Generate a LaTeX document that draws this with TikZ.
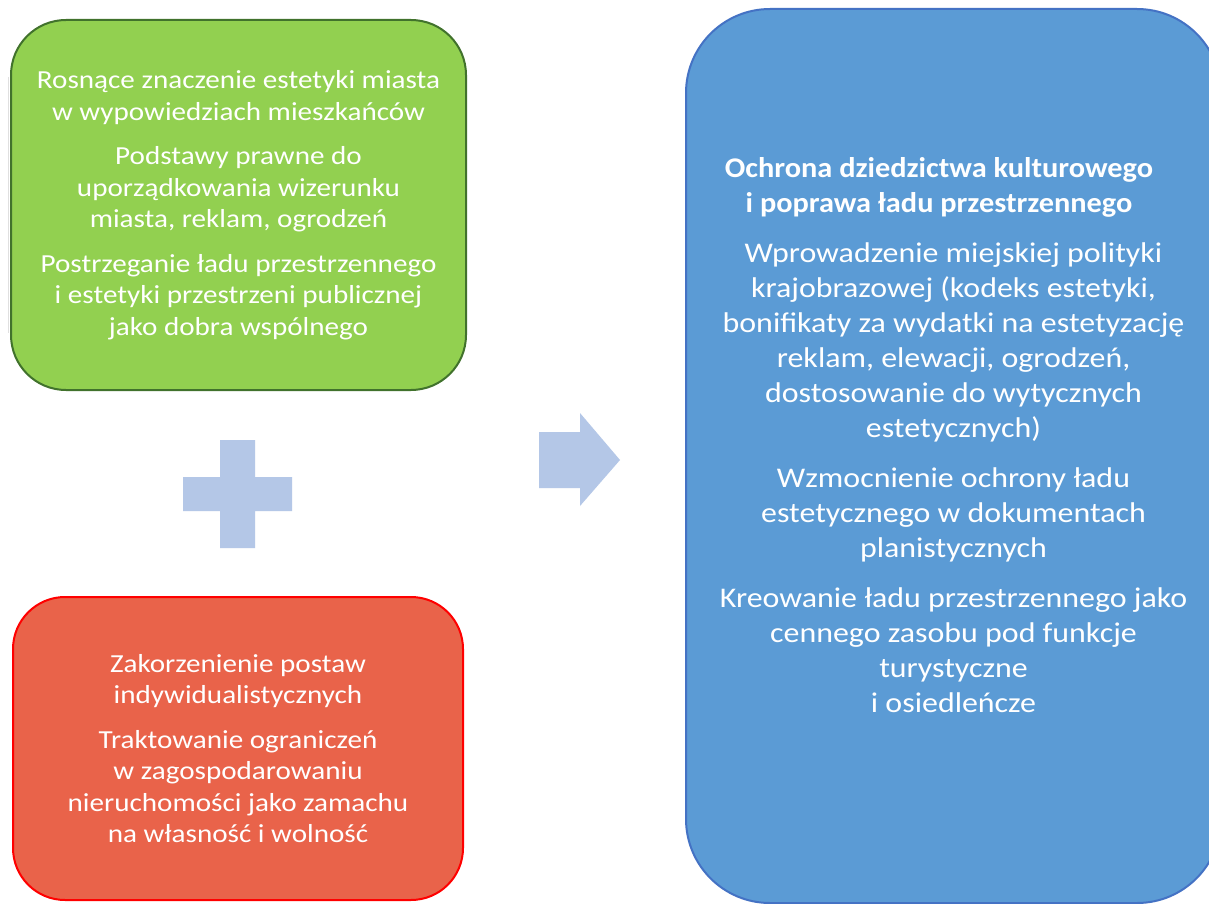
\documentclass[tikz,border=0pt]{standalone}
\usepackage{fontspec}
\setmainfont{Carlito}[FakeStretch=1.12, BoldFeatures={FakeStretch=1.065}]
\definecolor{gfill}{HTML}{92D050}
\definecolor{gline}{HTML}{41722C}
\definecolor{rfill}{HTML}{E9634A}
\definecolor{rline}{HTML}{FF0000}
\definecolor{bfill}{HTML}{5B9BD5}
\definecolor{bline}{HTML}{4472C4}
\definecolor{lblue}{HTML}{B4C7E7}
\tikzset{
  box/.style={draw, line width=2pt, rectangle, inner sep=0pt, align=center, text=white},
  smalltext/.style={font=\fontsize{26}{31.5}\selectfont},
  bigtext/.style={font=\fontsize{28.5}{35}\selectfont, text=white, align=center},
  shapefill/.style={fill=lblue, draw=none}
}
\begin{document}
\begin{tikzpicture}[x=1pt,y=-1pt]
\useasboundingbox (0,0) rectangle (1209,904);
\clip (0,0) rectangle (1209,904);
\fill[white] (0,0) rectangle (1209,904);
% faint artifact line
\draw[line width=1pt, black!12] (8,77) -- (8,333);
% green box
\node[box, smalltext, fill=gfill, draw=gline, rounded corners=55pt,
  minimum width=455pt, minimum height=370pt] (green) at (238.5,205)
  {Rosnące znaczenie estetyki miasta\\ w wypowiedziach mieszkańców\\[13pt]
   Podstawy prawne do\\ uporządkowania wizerunku\\ miasta, reklam, ogrodzeń\\[13pt]
   Postrzeganie ładu przestrzennego\\ i estetyki przestrzeni publicznej\\ jako dobra wspólnego};
% red box
\node[box, smalltext, fill=rfill, draw=rline, rounded corners=52pt,
  minimum width=450pt, minimum height=303pt] (red) at (238,748.5)
  {Zakorzenienie postaw\\ indywidualistycznych\\[13pt]
   Traktowanie ograniczeń\\ w zagospodarowaniu\\ nieruchomości jako zamachu\\ na własność i wolność};
% blue box
\node[box, fill=bfill, draw=bline, rounded corners=84pt,
  minimum width=535pt, minimum height=894pt] (blue) at (953.5,456) {};
\node[bigtext] (bluetext) at (953.5,435)
  {\textbf{Ochrona dziedzictwa kulturowego}\kern29pt\\ \textbf{i poprawa ładu przestrzennego}\kern29pt\\[15pt]
   Wprowadzenie miejskiej polityki\\ krajobrazowej (kodeks estetyki,\\ bonifikaty za wydatki na estetyzację\\ reklam, elewacji, ogrodzeń,\\ dostosowanie do wytycznych\\ estetycznych)\\[15pt]
   Wzmocnienie ochrony ładu\\ estetycznego w dokumentach\\ planistycznych\\[15pt]
   Kreowanie ładu przestrzennego jako\\ cennego zasobu pod funkcje\\ turystyczne\\ i osiedleńcze};
% plus sign
\fill[shapefill] (220,440) -- (255,440) -- (255,477) -- (292,477) -- (292,511) -- (255,511)
  -- (255,548) -- (220,548) -- (220,511) -- (183,511) -- (183,477) -- (220,477) -- cycle;
% block arrow
\fill[shapefill] (539,432) -- (580,432) -- (580,413) -- (620,460) -- (580,506) -- (580,488)
  -- (539,488) -- cycle;
\end{tikzpicture}
\end{document}
